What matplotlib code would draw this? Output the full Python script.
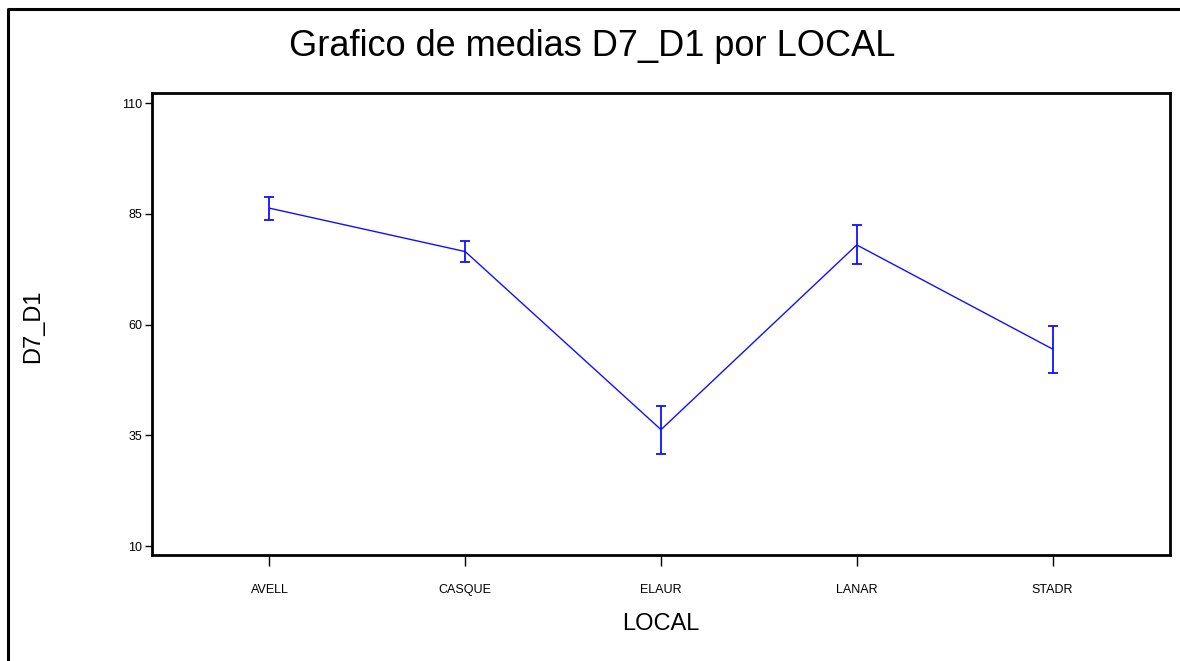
import matplotlib
matplotlib.use("Agg")
import matplotlib.pyplot as plt
from matplotlib.lines import Line2D

# Group means of D7_D1 by LOCAL, with half-widths of the error bars
locales = ["AVELL", "CASQUE", "ELAUR", "LANAR", "STADR"]
medias = [86.3, 76.5, 36.3, 78.0, 54.5]
err_inf = [2.7, 2.4, 5.5, 4.3, 5.4]
err_sup = [2.6, 2.5, 5.4, 4.4, 5.3]
yticks = [10, 35, 60, 85, 110]

narrow = ["Liberation Sans Narrow", "Liberation Sans", "DejaVu Sans"]

fig = plt.figure(figsize=(11.8, 6.61), dpi=100)
ax = fig.add_axes([152 / 1180, 1 - 555 / 661, (1170 - 152) / 1180, (555 - 93) / 661])

x = list(range(1, len(locales) + 1))
ax.errorbar(x, medias, yerr=[err_inf, err_sup], color="#1010ff", lw=1.0,
            elinewidth=1.3, capsize=3.6, capthick=1.3)

ax.set_xlim(0.4, 5.6)
ax.set_ylim(8.0, 112.3)
ax.set_yticks(yticks)
ax.set_yticklabels([str(v) for v in yticks], fontfamily=narrow, fontsize=9)
ax.set_xticks(x)
ax.set_xticklabels(locales, fontfamily=narrow, fontsize=9)
ax.tick_params(axis="y", direction="out", length=5, width=1, pad=2)
ax.tick_params(axis="x", direction="out", length=8, width=1, pad=13)
for sp in ax.spines.values():
    sp.set_linewidth(2)
    sp.set_color("black")

ax.set_xlabel("LOCAL", fontfamily=narrow, fontsize=17, labelpad=12)
fig.text(33 / 1180, 1 - 326 / 661, "D7_D1", rotation=90, ha="center", va="center",
         fontfamily=narrow, fontsize=17)

fig.text(592 / 1180, 1 - 47 / 661, "Grafico de medias D7_D1 por LOCAL",
         ha="center", va="center", fontfamily=narrow, fontsize=26)

# Outer frame along the left and top edges
fig.add_artist(Line2D([8 / 1180, 8 / 1180, 1.0], [0.0, 1 - 9 / 661, 1 - 9 / 661],
                      transform=fig.transFigure, color="black", lw=2.2))

fig.savefig("out.png", dpi=100, facecolor="white")
